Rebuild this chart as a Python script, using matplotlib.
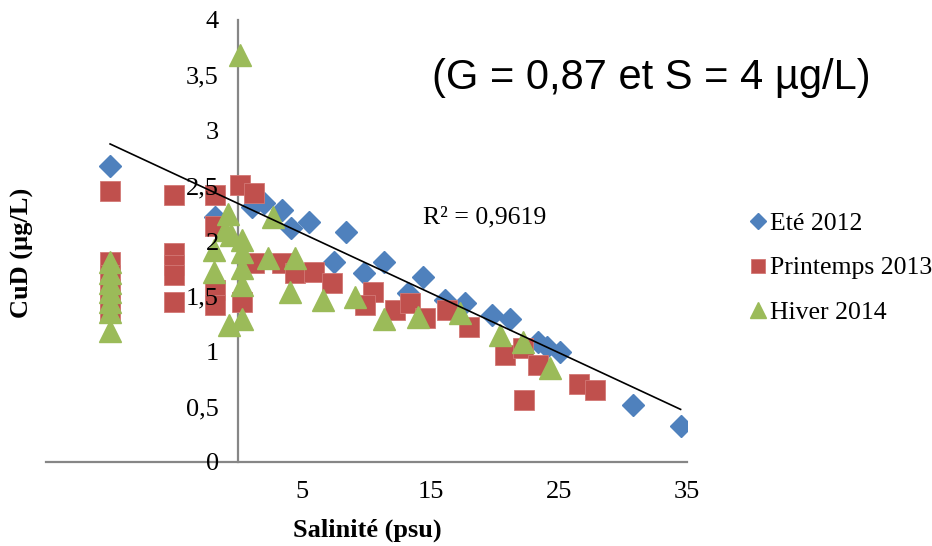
import matplotlib.pyplot as plt
import numpy as np

# Data (salinity in psu, dissolved Cu in ug/L)
ete_x = [-10, -1.8, 1.1, 2.0, 3.4, 4.1, 5.5, 8.4, 7.5, 9.8, 11.4, 14.4, 13.2,
         16.1, 17.7, 19.8, 21.2, 23.4, 24.1, 25.1, 30.8, 34.5]
ete_y = [2.68, 2.22, 2.31, 2.34, 2.28, 2.12, 2.17, 2.08, 1.81, 1.71, 1.81, 1.67, 1.53,
         1.47, 1.44, 1.33, 1.29, 1.09, 1.04, 1.00, 0.52, 0.33]

print_x = [-10, -10, -10, -10, -10, -10, -5, -5, -5, -5, -5, -1.8, -1.8, -1.8, -1.8,
           0.15, 1.25, 0.3, 1.25, 3.4, 4.4, 5.9, 7.3, 10.5, 9.9, 12.2, 13.4, 14.6,
           16.3, 18.0, 20.8, 22.2, 23.4, 26.6, 27.8, 22.3]
print_y = [2.45, 1.81, 1.69, 1.57, 1.47, 1.36, 2.42, 1.89, 1.78, 1.69, 1.45, 2.42, 2.14, 1.56, 1.42,
           2.51, 2.43, 1.45, 1.80, 1.80, 1.71, 1.72, 1.62, 1.54, 1.42, 1.38, 1.44, 1.30,
           1.38, 1.22, 0.97, 1.03, 0.88, 0.71, 0.65, 0.56]

hiver_x = [-10, -10, -10, -10, -10, -10, -10, -0.8, -1.0, -0.6, 0.3, -1.9, 0.3, -1.9,
           0.3, 0.3, -0.7, 0.3, 0.15, 2.7, 2.3, 4.4, 4.0, 6.6, 9.1, 11.4, 14.0, 17.3,
           20.4, 22.2, 24.3]
hiver_y = [1.81, 1.71, 1.62, 1.54, 1.45, 1.36, 1.19, 2.24, 2.10, 2.05, 2.01, 1.92, 1.90, 1.72,
           1.76, 1.60, 1.24, 1.29, 3.68, 2.22, 1.85, 1.85, 1.54, 1.47, 1.49, 1.29, 1.31, 1.35,
           1.15, 1.09, 0.85]

xticks = [-15, -5, 5, 15, 25, 35]
xticklabels = ["", "", "5", "15", "25", "35"]
yticks = [0, 0.5, 1, 1.5, 2, 2.5, 3, 3.5, 4]
yticklabels = ["0", "0,5", "1", "1,5", "2", "2,5", "3", "3,5", "4"]

plt.rcParams['font.family'] = ['Liberation Serif', 'DejaVu Serif']

fig = plt.figure(figsize=(9.32, 5.46), dpi=100)
ax = fig.add_axes([46 / 932, 84 / 546, (687 - 46) / 932, (462 - 20) / 546])

ax.plot(ete_x, ete_y, linestyle='none', marker='D', markersize=11,
        color='#4F81BD', label='Eté 2012')
ax.plot(print_x, print_y, linestyle='none', marker='s', markersize=14.5,
        color='#C0504D', markeredgecolor='#D27875', markeredgewidth=0.6, label='Printemps 2013')
ax.plot(hiver_x, hiver_y, linestyle='none', marker='^', markersize=15.5,
        color='#9BBB59', label='Hiver 2014')

# linear trend line on the summer series
coef = np.polyfit(ete_x, ete_y, 1)
fit = np.poly1d(coef)
tx = np.array([min(ete_x), max(ete_x)])
ax.plot(tx, fit(tx), color='black', linewidth=1.2, zorder=5)
ax.text(14.4, 2.21, "R² = 0,9619", fontsize=18.5, ha='left', va='center')

ax.set_xlim(-15, 35)
ax.set_ylim(0, 4)
ax.set_xticks(xticks)
ax.set_xticklabels(xticklabels)
ax.set_yticks(yticks)
ax.set_yticklabels(yticklabels)

ax.spines['left'].set_position(('data', 0))
for s in ['left', 'bottom']:
    ax.spines[s].set_color('#868686')
    ax.spines[s].set_linewidth(1.6)
    ax.spines[s].set_zorder(1)
ax.spines['top'].set_visible(False)
ax.spines['right'].set_visible(False)
ax.tick_params(axis='both', length=0, labelsize=19)
ax.tick_params(axis='y', pad=14)
ax.tick_params(axis='x', pad=14)
ax.xaxis.set_zorder(3)
ax.yaxis.set_zorder(3)
ax.set_facecolor('none')

fig.text(22 / 932, 1 - 253 / 546, "CuD (µg/L)", rotation=90, fontsize=19,
         fontweight='bold', ha='center', va='center')
fig.text(367 / 932, 1 - 530 / 546, "Salinité (psu)", fontsize=19,
         fontweight='bold', ha='center', va='center')
fig.text(432 / 932, 1 - 78 / 546, "(G = 0,87 et S = 4 µg/L)", fontsize=30,
         family='Liberation Sans', ha='left', va='center')

fig.legend(loc='center left', bbox_to_anchor=(737 / 932, 1 - 268 / 546), frameon=False,
           fontsize=18.5, handlelength=0.6, handletextpad=0.2, borderpad=0,
           labelspacing=0.85, markerscale=0.72)

fig.savefig("out.png", dpi=100)
